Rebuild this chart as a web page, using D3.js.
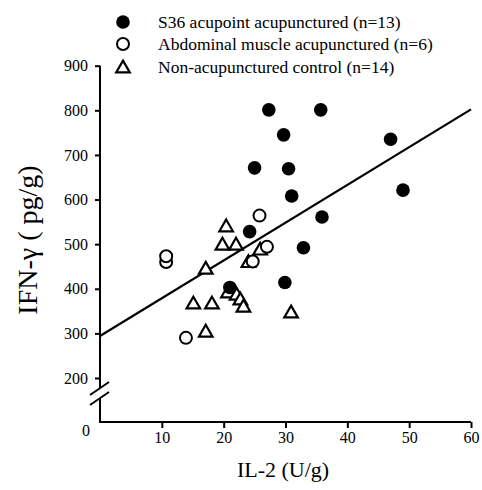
<!DOCTYPE html>
<html>
<head>
<meta charset="utf-8">
<script src="https://cdn.jsdelivr.net/npm/d3@7"></script>
<style>
  html, body { margin: 0; padding: 0; background: #fff; }
  svg { display: block; }
  svg text { font-family: "Liberation Serif", "Times New Roman", serif !important; fill: #000; }
</style>
</head>
<body>
<svg id="chart" width="482" height="490"></svg>
<script>
// ---- data ----
const seriesNames = ["S36 acupoint acupunctured (n=13)", "Abdominal muscle acupunctured (n=6)", "Non-acupunctured control (n=14)"];
const s36X = [27.3, 35.7, 29.7, 47.0, 25.0, 30.5, 31.0, 49.0, 35.9, 24.2, 32.9, 29.9, 21.0];
const s36Y = [801, 801, 745, 735, 671, 669, 608, 621, 561, 528, 492, 414, 403];
const abdX = [10.7, 10.7, 13.9, 25.8, 27.0, 24.7];
const abdY = [460, 473, 290, 564, 494, 461];
const ctrlX = [20.4, 19.8, 22.0, 17.1, 24.0, 25.9, 20.7, 22.1, 22.7, 23.2, 15.1, 18.1, 17.1, 30.9];
const ctrlY = [541, 500, 500, 446, 461, 489, 393, 388, 377, 361, 368, 368, 305, 348];
const fitX = [0, 60];
const fitY = [294, 802];
const xTicks = [10, 20, 30, 40, 50, 60];
const yTicks = [200, 300, 400, 500, 600, 700, 800, 900];
const xTitle = "IL-2 (U/g)";
const yTitle = "IFN-\u03b3 ( pg/g)";
const serif = "'Liberation Serif', 'Times New Roman', serif";

// ---- scales ----
const svg = d3.select("#chart");
const x = d3.scaleLinear().domain([0, 60]).range([100, 471]);
const y = d3.scaleLinear().domain([200, 900]).range([378, 65.7]);
const xAxisY = y(200) + 44;

// ---- axes ----
const ax = svg.append("g").attr("transform", `translate(0,${xAxisY})`)
  .call(d3.axisBottom(x).tickValues(xTicks).tickSize(6).tickSizeOuter(0).tickFormat(d3.format("d")))
  .attr("font-family", serif).attr("font-size", 16);
ax.select(".domain").attr("stroke", "#000").attr("stroke-width", 2)
  .attr("d", `M${x(0)},0H${x(60)}`);
ax.selectAll(".tick line").attr("stroke", "#000").attr("stroke-width", 2);
ax.selectAll(".tick text").attr("y", 10).attr("dy", "0.71em");

const ay = svg.append("g").attr("transform", `translate(${x(0)},0)`)
  .call(d3.axisLeft(y).tickValues(yTicks).tickSize(5).tickSizeOuter(0).tickFormat(d3.format("d")))
  .attr("font-family", serif).attr("font-size", 16);
ay.select(".domain").attr("stroke", "#000").attr("stroke-width", 2)
  .attr("d", `M0,${y(900)}V${y(200) + 10}M0,${y(200) + 20}V${xAxisY + 1}`);
ay.selectAll(".tick line").attr("stroke", "#000").attr("stroke-width", 2);
ay.selectAll(".tick text").attr("x", -12);

// axis break slashes
[10, 20].forEach(off => {
  svg.append("line")
    .attr("x1", x(0) - 10).attr("y1", y(200) + off + 7)
    .attr("x2", x(0) + 9).attr("y2", y(200) + off - 6)
    .attr("stroke", "#000").attr("stroke-width", 2);
});

// origin label
svg.append("text").attr("x", x(0) - 14).attr("y", xAxisY + 14)
  .attr("text-anchor", "middle").attr("font-size", 16).text("0");

// titles
svg.append("text").attr("x", 283).attr("y", 477).attr("text-anchor", "middle")
  .attr("font-size", 22).text(xTitle);
svg.append("text").attr("transform", `translate(37,240) rotate(-90)`)
  .attr("text-anchor", "middle").attr("font-size", 28).text(yTitle);

// ---- regression line ----
svg.append("path")
  .datum(fitX.map((v, i) => [v, fitY[i]]))
  .attr("d", d3.line().x(d => x(d[0])).y(d => y(d[1])))
  .attr("fill", "none").attr("stroke", "#000").attr("stroke-width", 2.2);

// ---- markers ----
const triPath = d3.symbol().type(d3.symbolTriangle).size(80);
function triangle(g, cx, cy) {
  g.append("path").attr("d", triPath())
    .attr("transform", `translate(${cx},${cy + 1.5})`)
    .attr("fill", "#fff").attr("stroke", "#000").attr("stroke-width", 2.2)
    .attr("stroke-linejoin", "miter");
}
function openCircle(g, cx, cy) {
  g.append("circle").attr("cx", cx).attr("cy", cy).attr("r", 6)
    .attr("fill", "#fff").attr("stroke", "#000").attr("stroke-width", 2);
}
function filledCircle(g, cx, cy) {
  g.append("circle").attr("cx", cx).attr("cy", cy).attr("r", 6.8).attr("fill", "#000");
}

const gCtrl = svg.append("g");
ctrlX.forEach((v, i) => triangle(gCtrl, x(v), y(ctrlY[i])));
const gAbd = svg.append("g");
abdX.forEach((v, i) => openCircle(gAbd, x(v), y(abdY[i])));
const gS36 = svg.append("g");
s36X.forEach((v, i) => filledCircle(gS36, x(v), y(s36Y[i])));

// ---- legend ----
const legendRows = [22, 44, 67];
const lg = svg.append("g");
filledCircle(lg, 123, legendRows[0]);
openCircle(lg, 123, legendRows[1]);
triangle(lg, 123, legendRows[2]);
seriesNames.forEach((name, i) => {
  lg.append("text").attr("x", 158).attr("y", legendRows[i] + 6)
    .attr("font-size", 17.5).text(name);
});
</script>
</body>
</html>
